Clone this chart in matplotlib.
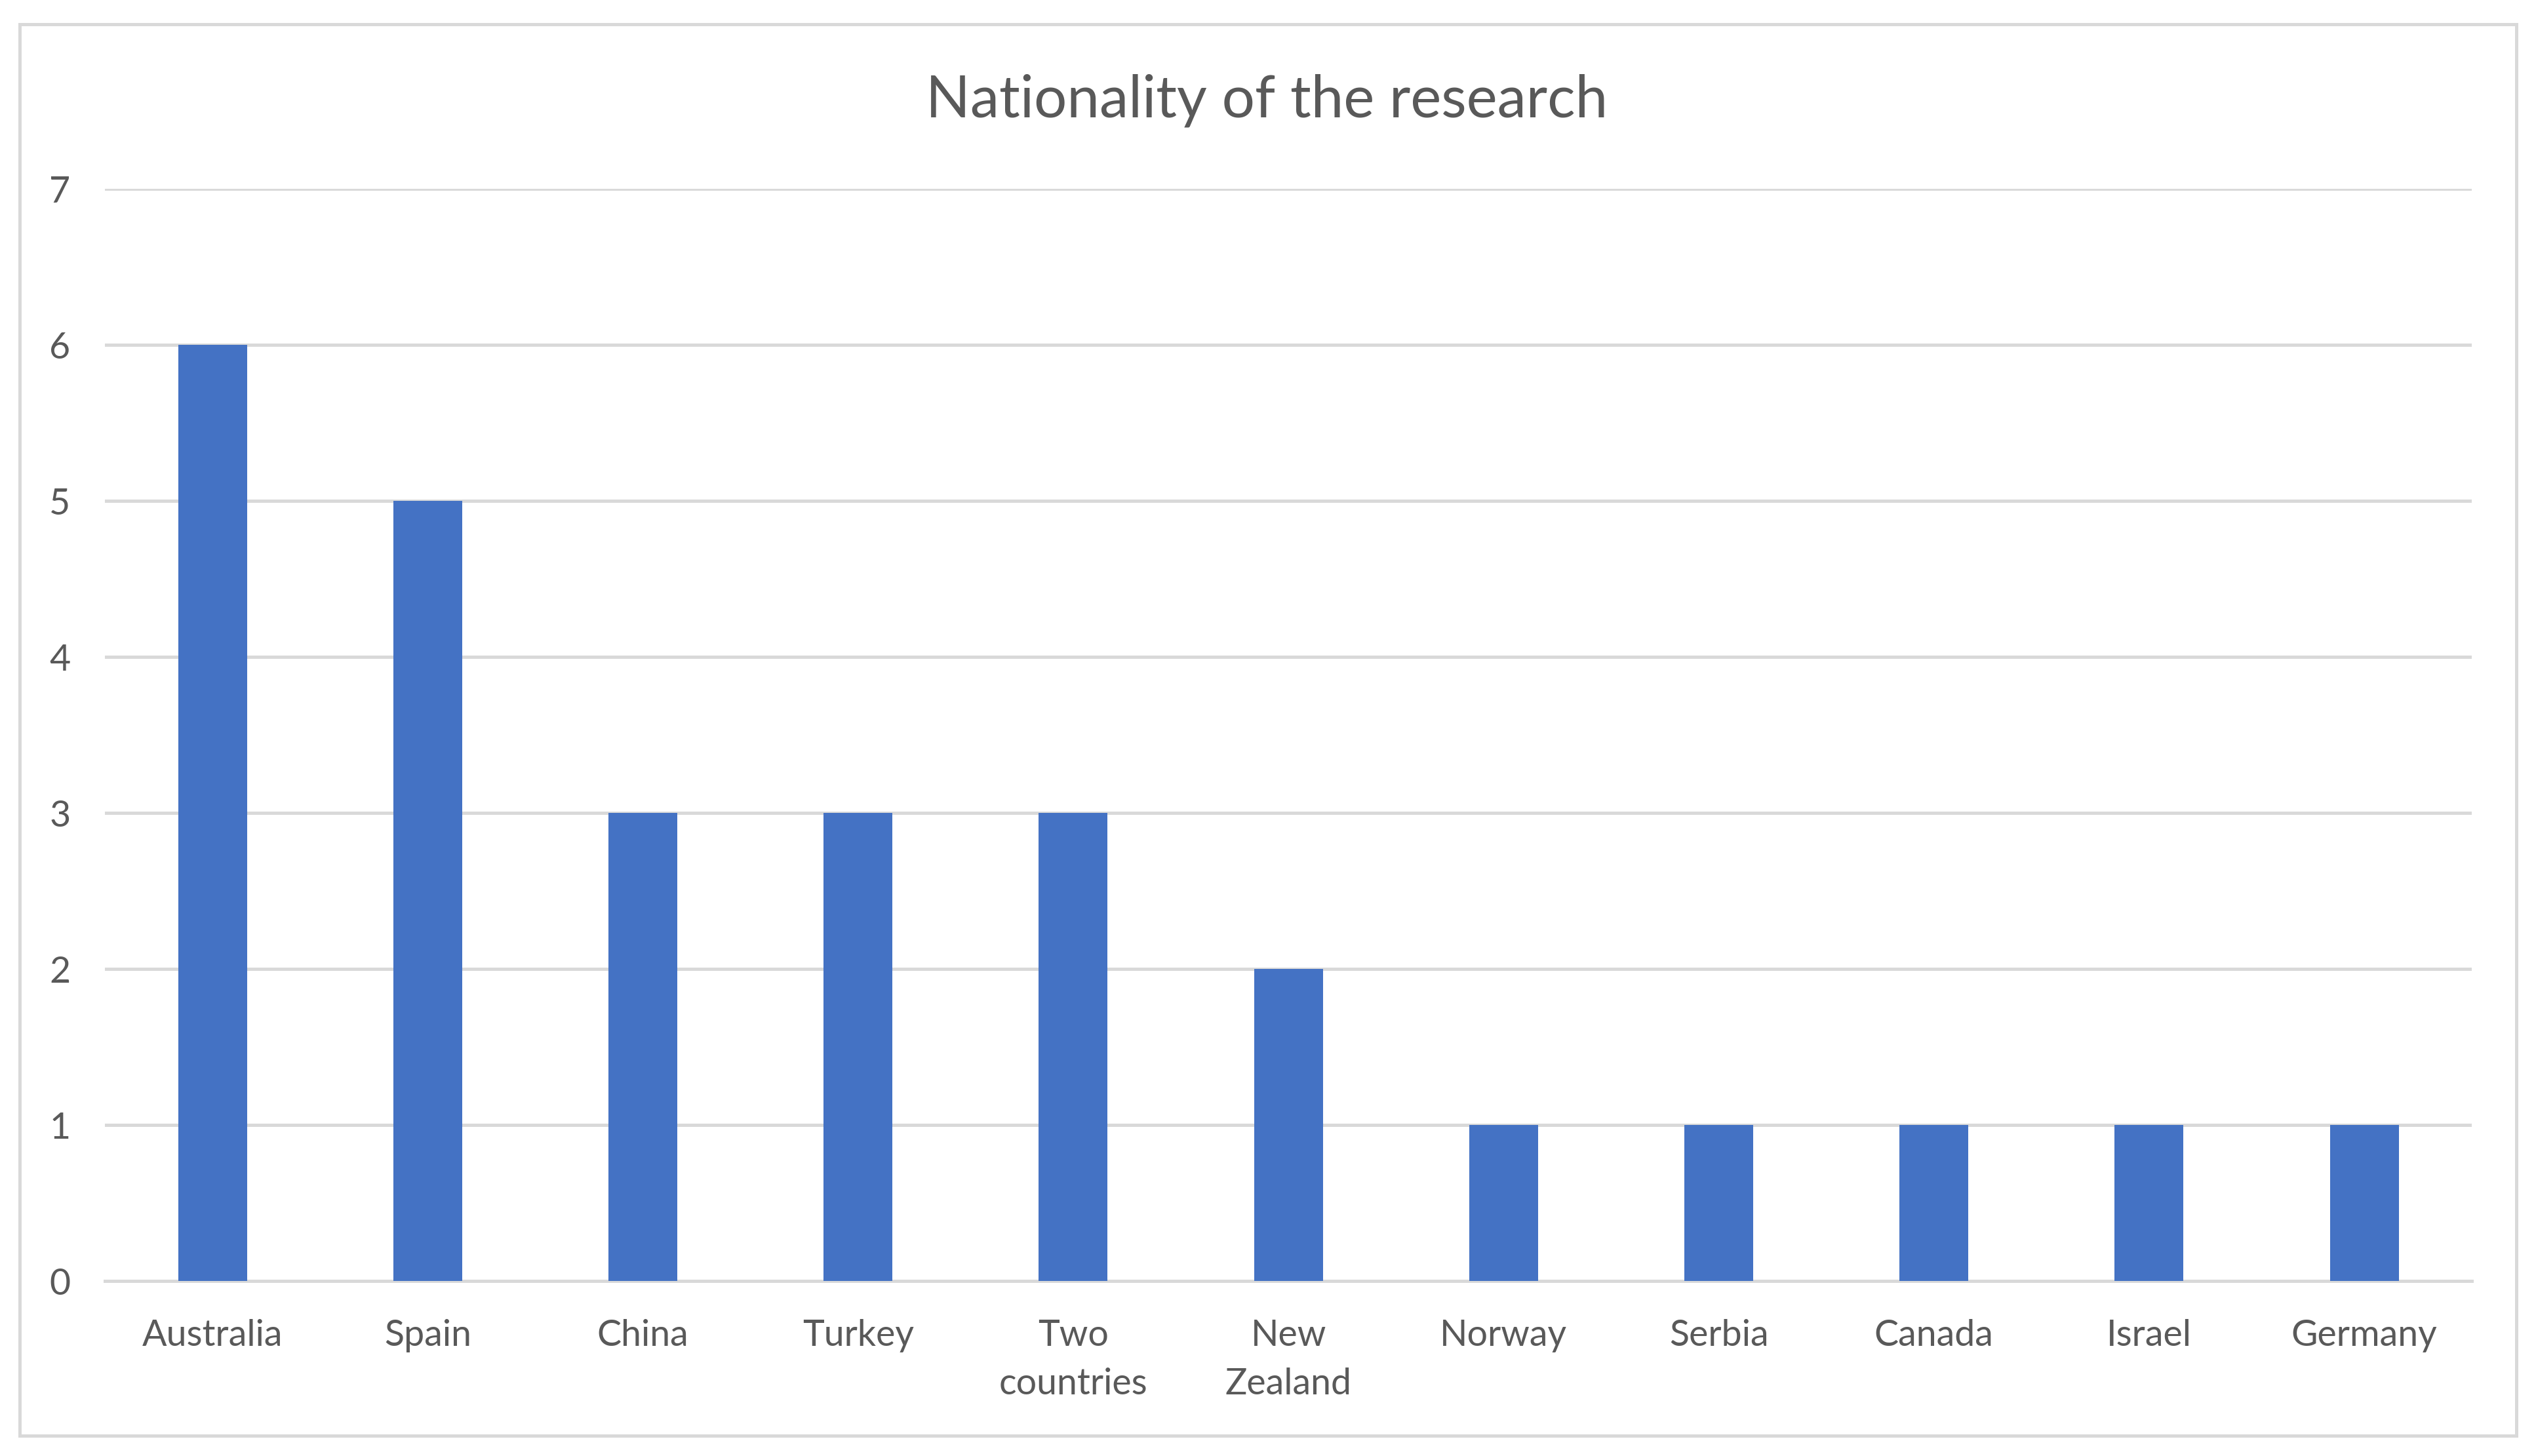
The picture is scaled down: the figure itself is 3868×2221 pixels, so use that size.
import matplotlib.pyplot as plt
from matplotlib.patches import Rectangle

countries = ["Australia", "Spain", "China", "Turkey", "Two\ncountries", "New\nZealand",
             "Norway", "Serbia", "Canada", "Israel", "Germany"]
counts = [6, 5, 3, 3, 3, 2, 1, 1, 1, 1, 1]
yticks = [0, 1, 2, 3, 4, 5, 6, 7]

plt.rcParams['font.family'] = ['Lato', 'DejaVu Sans']
text_gray = "#595959"
grid_gray = "#D9D9D9"

fig = plt.figure(figsize=(38.68, 22.21), dpi=100)
ax = fig.add_axes([0.0414, 0.1202, 0.9333, 0.7501])

x = range(len(countries))
ax.bar(x, counts, width=0.32, color="#4472C4", zorder=3)

ax.set_xlim(-0.5, len(countries) - 0.5)
ax.set_ylim(0, 7)
ax.set_yticks(yticks)
ax.set_xticks(list(x))
ax.set_xticklabels(countries, linespacing=1.55)

ax.grid(axis="y", color=grid_gray, linewidth=3.6, zorder=0)
for s in ["left", "right", "top"]:
    ax.spines[s].set_visible(False)
ax.spines["bottom"].set_color(grid_gray)
ax.spines["bottom"].set_linewidth(3.6)
ax.spines["bottom"].set_zorder(2)

ax.tick_params(axis="both", length=0, colors=text_gray, labelsize=40)
ax.tick_params(axis="y", pad=38)
ax.tick_params(axis="x", pad=42)

fig.text(0.4995, 0.931, "Nationality of the research", ha="center", va="center",
         fontsize=64, color=text_gray)

# outer chart border
fig.patches.append(Rectangle((30 / 3868, 1 - 2190 / 2221), (3838 - 30) / 3868, (2190 - 37) / 2221,
                             transform=fig.transFigure, fill=False, edgecolor=grid_gray,
                             linewidth=3.6))

fig.savefig("out.png", dpi=100, facecolor="white")
